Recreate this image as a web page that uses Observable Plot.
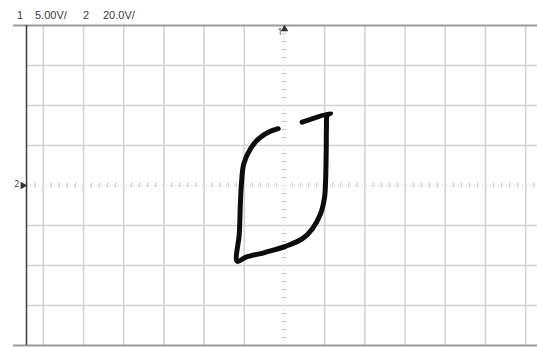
<!DOCTYPE html>
<html>
<head>
<meta charset="utf-8">
<script src="https://cdn.jsdelivr.net/npm/d3@7"></script>
<script src="https://cdn.jsdelivr.net/npm/@observablehq/plot@0.6"></script>
<style>
  body { margin: 0; background: #fff; }
  #hdr { position: relative; width: 537px; height: 22px; font: 11px "Liberation Sans", Arial, sans-serif; color: #3a3a3a; }
  #hdr span { position: absolute; top: 9px; white-space: nowrap; }
</style>
</head>
<body>
<div id="hdr"></div>
<div id="chart"></div>
<script>
// Channel settings shown in the status line (XY mode: CH1 on X, CH2 on Y)
const channelNames = ["1", "2"];
const channelScales = ["5.00V/", "20.0V/"];

// Graticule: 5 V per division on X, 20 V per division on Y
const xGrid = [-30, -25, -20, -15, -10, -5, 5, 10, 15, 20, 25, 30];
const yGrid = [-60, -40, -20, 20, 40, 60];
const xMinor = d3.range(-32, 32, 1).filter(v => v % 5 !== 0);
const yMinor = d3.range(-76, 80, 4).filter(v => v % 20 !== 0);

// XY trace (volts): CH1 on X, CH2 on Y
const traceX = [-0.78, -1.95, -3.20, -4.23, -5.06, -5.35, -5.47, -5.62, -5.88,
                -4.85, -2.36, 0.12, 2.20, 3.45, 4.48, 4.98, 5.10, 5.19, 5.22, 5.31, 5.72, 2.20];
const traceY = [28.4, 26.7, 23.4, 18.4, 10.9, 1.0, -7.5, -24.0, -37.9,
                -35.9, -33.4, -30.4, -26.7, -21.7, -14.2, -5.9, 0.9, 17.5, 29.2, 35.0, 36.2, 31.7];
const trace = traceX.map((x, i) => ({x, y: traceY[i]}));

// Status line above the screen
const hdr = document.getElementById("hdr");
const hdrLeft = [17, 35, 83, 103];
[channelNames[0], channelScales[0], channelNames[1], channelScales[1]].forEach((t, i) => {
  const s = document.createElement("span");
  s.textContent = t;
  s.style.left = hdrLeft[i] + "px";
  hdr.appendChild(s);
});

const xMin = -32.09, xMax = 31.47;
const gridColor = "#d3d3d3";
const axisColor = "#cbcbcb";

const chart = Plot.plot({
  width: 537,
  height: 325,
  marginTop: 3,
  marginBottom: 2,
  marginLeft: 26,
  marginRight: 0,
  x: {domain: [xMin, xMax], axis: null},
  y: {domain: [-80, 80], axis: null},
  style: {background: "white", overflow: "visible"},
  marks: [
    Plot.ruleX(xGrid, {stroke: gridColor, strokeWidth: 1.6}),
    Plot.ruleY(yGrid, {stroke: gridColor, strokeWidth: 1.6}),
    // dotted centre axes with minor division ticks
    Plot.ruleX([0], {stroke: axisColor, strokeWidth: 1.2, strokeDasharray: "1,3"}),
    Plot.ruleY([0], {stroke: axisColor, strokeWidth: 1.2, strokeDasharray: "1,3"}),
    Plot.ruleY(yMinor, {x1: -0.3, x2: 0.3, stroke: axisColor, strokeWidth: 1.2}),
    Plot.ruleX(xMinor, {y1: -1.2, y2: 1.2, stroke: axisColor, strokeWidth: 1.2}),
    // screen borders
    Plot.ruleY([80, -80], {x1: -33.7, x2: xMax, stroke: "#9a9a9a", strokeWidth: 2}),
    Plot.ruleX([xMin], {y1: -80, y2: 80, stroke: "#3c3c3c", strokeWidth: 1.5}),
    // channel markers
    Plot.dot([{x: 0, y: 78.2}], {x: "x", y: "y", symbol: "triangle", r: 2.8, fill: "#333", stroke: null}),
    Plot.text([channelNames[0]], {x: -0.55, y: 76.5, text: d => d, fontSize: 8, fill: "#444"}),
    Plot.dot([{x: -32.55, y: 0}], {x: "x", y: "y", symbol: "triangle", r: 2.8, rotate: 90, fill: "#333", stroke: null}),
    Plot.text([channelNames[1]], {x: -33.3, y: 0.8, text: d => d, fontSize: 9, fill: "#444"}),
    // XY trace
    Plot.line(trace, {x: "x", y: "y", curve: "catmull-rom", stroke: "#0d0d0d", strokeWidth: 5,
                      strokeLinecap: "round", strokeLinejoin: "round"})
  ]
});
document.getElementById("chart").appendChild(chart);
</script>
</body>
</html>
